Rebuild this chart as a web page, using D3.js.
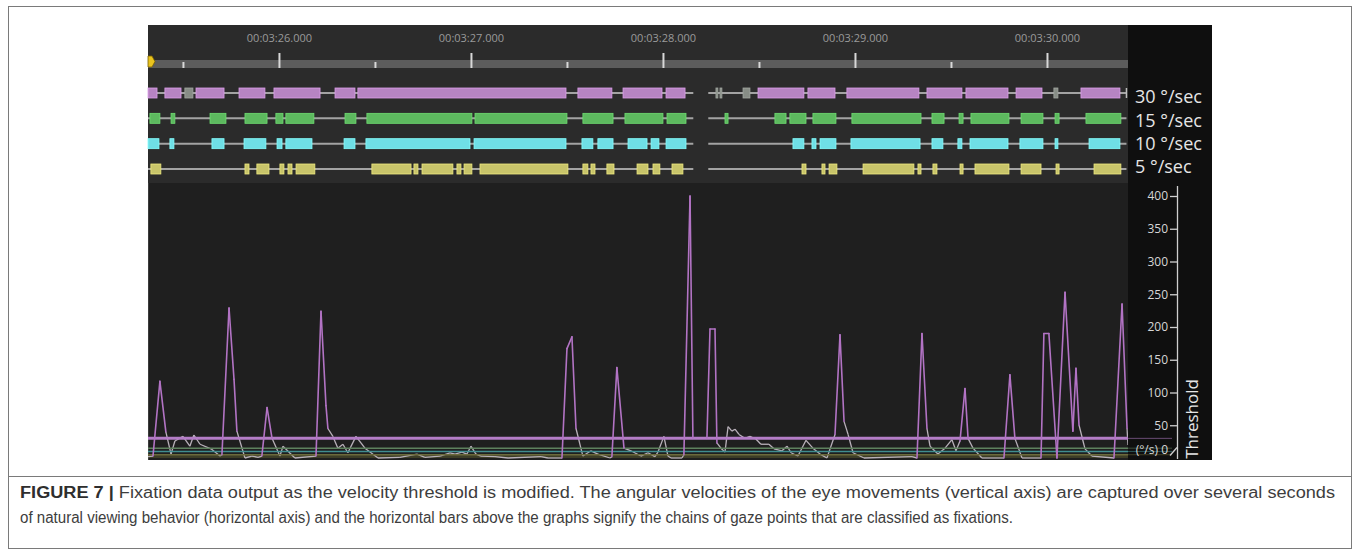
<!DOCTYPE html>
<html>
<head>
<meta charset="utf-8">
<script src="https://cdnjs.cloudflare.com/ajax/libs/d3/7.8.5/d3.min.js"></script>
<style>
    body { margin: 0; background: #fff; }
    svg { display: block; }
    .time-axis text { font-family: "Open Sans", sans-serif; font-size: 11px; fill: #9a9a9a; }
    .time-axis line { stroke: #d8d8d8; stroke-width: 2; }
    .y-axis text { font-family: "Open Sans", sans-serif; font-size: 12px; fill: #d6d6d6; }
    .y-axis line { stroke: #cfcfcf; stroke-width: 1.3; }
    .row-label { font-family: "Open Sans", sans-serif; font-size: 18px; fill: #e6e6e6; }
    .caption { font-family: "Liberation Sans", Arial, sans-serif; font-size: 16px; fill: #3d3d3d; }
</style>
</head>
<body>
<div class="chart"></div>
<script>

// time in ms after 00:03:25.000

var timeTicks = [1000, 2000, 3000, 4000, 5000];
var timeTickLabels = ["00:03:26.000", "00:03:27.000", "00:03:28.000", "00:03:29.000", "00:03:30.000"];
var halfTicks = [500, 1500, 2500, 3500, 4500];

var rowLabels = ["30 °/sec", "15 °/sec", "10 °/sec", "5 °/sec"];
var rowThresholds = [30, 15, 10, 5];
var rowColors = ["#b784c3", "#5db95f", "#6fdfe6", "#c8c46a"];

// gaze tracks have a gap between these spans
var trackSpans = [[318, 3158], [3236, 5414]];

// fixation chains [start, end] for every threshold
var fix30 = [[318, 365], [406, 490], [568, 714], [792, 927], [974, 1214], [1292, 1396], [1411, 2495],
    [2557, 2734], [2792, 2995], [3016, 3115], [3495, 3734], [3755, 3896], [3958, 4333], [4375, 4557],
    [4578, 4797], [4839, 4974], [5177, 5380]];
var unclassified30 = [[510, 552], [3276, 3286], [3297, 3307], [3417, 3453], [5036, 5057]];

var fix15 = [[328, 380], [438, 458], [641, 724], [823, 938], [984, 1021], [1036, 1182], [1344, 1401],
    [1458, 2005], [2021, 2500], [2583, 2740], [2802, 3000], [3021, 3120], [3323, 3339], [3583, 3641],
    [3661, 3745], [3781, 3901], [3984, 4344], [4401, 4464], [4542, 4563], [4604, 4802], [4865, 4979],
    [5042, 5063], [5203, 5385]];

var fix10 = [[318, 375], [432, 453], [651, 714], [818, 932], [990, 1016], [1036, 1172], [1339, 1396],
    [1453, 1995], [2016, 2495], [2578, 2635], [2661, 2740], [2818, 2917], [2938, 2979], [3016, 3120],
    [3677, 3734], [3776, 3797], [3818, 3901], [3979, 4339], [4401, 4458], [4536, 4557], [4599, 4797],
    [4859, 4979], [5042, 5057], [5219, 5380]];

var fix5 = [[333, 385], [823, 844], [885, 948], [1005, 1026], [1047, 1068], [1089, 1187], [1484, 1688],
    [1703, 1724], [1745, 1906], [1927, 1948], [1964, 2005], [2047, 2505], [2583, 2609], [2625, 2646],
    [2708, 2745], [2865, 2922], [2948, 2984], [3047, 3104], [3724, 3745], [3828, 3844], [3865, 3906],
    [4042, 4307], [4328, 4344], [4406, 4427], [4547, 4563], [4625, 4802], [4865, 4969], [5047, 5063],
    [5245, 5385]];

var yTicks = [0, 50, 100, 150, 200, 250, 300, 350, 400];

// angular velocity samples [time ms, deg/s]
var velocity = [
    [318, 2], [344, 3], [380, 117], [411, 40], [438, 6], [458, 26], [500, 33], [536, 18], [557, 35],
    [589, 21], [646, 14], [693, 3], [703, 5], [740, 229], [766, 120], [781, 41], [823, 0], [859, 3],
    [891, 1], [911, 3], [938, 77], [964, 30], [1005, 3], [1021, 18], [1083, 0], [1193, 3], [1219, 224],
    [1245, 80], [1255, 45], [1281, 33], [1307, 15], [1333, 21], [1359, 8], [1401, 33], [1448, 15],
    [1516, 0], [1630, 1], [1719, 6], [1760, 1], [1839, 3], [1891, 8], [1917, 6], [1953, 9], [1979, 6],
    [2000, 18], [2026, 6], [2052, 3], [2125, 2], [2193, 0], [2365, 2], [2401, 0], [2474, 0], [2500, 167],
    [2526, 185], [2547, 45], [2583, 3], [2625, 11], [2661, 6], [2724, 0], [2734, 2], [2760, 138],
    [2797, 15], [2833, 11], [2885, 3], [2922, 8], [2958, 2], [2974, 9], [3005, 33], [3026, 3], [3042, 0],
    [3099, 0], [3109, 5], [3141, 400], [3156, 30], [3193, 30], [3229, 30], [3245, 197], [3271, 197],
    [3281, 23], [3302, 15], [3323, 9], [3339, 48], [3359, 41], [3375, 44], [3396, 36], [3427, 30],
    [3453, 33], [3484, 29], [3510, 21], [3552, 21], [3578, 14], [3620, 11], [3646, 18], [3667, 8],
    [3703, 3], [3745, 27], [3781, 15], [3818, 6], [3854, 0], [3896, 36], [3922, 188], [3943, 56],
    [3964, 36], [3990, 8], [4047, 0], [4297, 2], [4323, 0], [4349, 190], [4375, 45], [4391, 18],
    [4432, 6], [4469, 15], [4505, 28], [4526, 11], [4547, 26], [4573, 106], [4589, 30], [4615, 15],
    [4661, 0], [4776, 0], [4807, 127], [4833, 30], [4870, 0], [4969, 0], [4984, 190], [5010, 190],
    [5052, 0], [5094, 253], [5135, 41], [5151, 137], [5167, 50], [5198, 14], [5234, 3], [5349, 0],
    [5391, 235], [5417, 45], [5422, 20]
];

var captionBold = "FIGURE 7 | ";
var captionLine1 = "Fixation data output as the velocity threshold is modified. The angular velocities of the eye movements (vertical axis) are captured over several seconds";
var captionLine2 = "of natural viewing behavior (horizontal axis) and the horizontal bars above the graphs signify the chains of gaze points that are classified as fixations.";

// Set-up the dimensions

var svgWidth = 1360;
var svgHeight = 554;

var panel = { left: 148, right: 1212, top: 25, bottom: 460 };
var plotRight = 1128;
var headerBottom = 183;

var svg = d3.select(".chart")
    .append("svg")
    .attr("width", svgWidth)
    .attr("height", svgHeight);

// scales

var xScale = d3.scaleLinear().domain([318, 5422]).range([panel.left, plotRight]);
var yScale = d3.scaleLinear().domain([0, 400]).range([458, 196]);
var rowScale = d3.scalePoint().domain(rowLabels).range([93, 169]);
var labelScale = d3.scalePoint().domain(rowLabels).range([97, 167]);

// figure frame

svg.append("rect")
    .attr("x", 8.5).attr("y", 6.5)
    .attr("width", 1343).attr("height", 542)
    .attr("fill", "none")
    .attr("stroke", "#7a7a7a");

svg.append("line")
    .attr("x1", 8).attr("x2", 1352)
    .attr("y1", 476.5).attr("y2", 476.5)
    .attr("stroke", "#7a7a7a");

// panel backgrounds

svg.append("rect")
    .attr("x", panel.left).attr("y", panel.top)
    .attr("width", plotRight - panel.left).attr("height", headerBottom - panel.top)
    .attr("fill", "#2b2b2b");

svg.append("rect")
    .attr("x", panel.left).attr("y", headerBottom)
    .attr("width", plotRight - panel.left).attr("height", panel.bottom - headerBottom)
    .attr("fill", "#1f1f1f");

svg.append("rect")
    .attr("x", plotRight).attr("y", panel.top)
    .attr("width", panel.right - plotRight).attr("height", panel.bottom - panel.top)
    .attr("fill", "#0f0f0f");

svg.append("line")
    .attr("x1", panel.left + 0.5).attr("x2", panel.left + 0.5)
    .attr("y1", headerBottom).attr("y2", panel.bottom)
    .attr("stroke", "#3c3c3c");

// timeline

svg.append("rect")
    .attr("x", panel.left).attr("y", 60)
    .attr("width", plotRight - panel.left).attr("height", 8)
    .attr("fill", "#5c5c5c");

var timeAxis = d3.axisTop(xScale)
    .tickValues(timeTicks)
    .tickSize(15)
    .tickPadding(11)
    .tickFormat(function(d, i) { return timeTickLabels[i]; });

svg.append("g")
    .attr("class", "time-axis")
    .attr("transform", "translate(0, 68)")
    .call(timeAxis)
    .call(function(g) { g.select(".domain").remove(); });

svg.append("g")
    .attr("class", "time-axis")
    .attr("transform", "translate(0, 68)")
    .call(d3.axisTop(xScale).tickValues(halfTicks).tickSize(6).tickFormat(""))
    .call(function(g) { g.select(".domain").remove(); });

// play head marker
svg.append("path")
    .attr("d", "M148,56 L152,56 L155,61.5 L152,67 L148,67 Z")
    .attr("fill", "#e9c31e")
    .attr("stroke", "#7a5f00")
    .attr("stroke-width", 0.8);

// fixation rows

var rows = [fix30, fix15, fix10, fix5];

rows.forEach(function(fixations, i) {

    var row = svg.append("g")
        .attr("transform", "translate(0," + rowScale(rowLabels[i]) + ")");

    row.selectAll(".track")
        .data(trackSpans)
        .enter()
        .append("line")
        .attr("x1", function(d) { return xScale(d[0]); })
        .attr("x2", function(d) { return xScale(d[1]); })
        .attr("y1", 0).attr("y2", 0)
        .attr("stroke", "#a3a3a3")
        .attr("stroke-width", 2);

    if (i === 0) {
        row.selectAll(".other")
            .data(unclassified30)
            .enter()
            .append("rect")
            .attr("x", function(d) { return xScale(d[0]); })
            .attr("width", function(d) { return xScale(d[1]) - xScale(d[0]); })
            .attr("y", -5).attr("height", 10)
            .attr("fill", "#878d86")
            .attr("stroke", "#a2a7a1")
            .attr("stroke-width", 0.8);

        row.append("line")
            .attr("x1", xScale(trackSpans[1][1])).attr("x2", xScale(trackSpans[1][1]))
            .attr("y1", -5).attr("y2", 5)
            .attr("stroke", "#bdbdbd")
            .attr("stroke-width", 1.5);
    }

    row.selectAll(".fix")
        .data(fixations)
        .enter()
        .append("rect")
        .attr("x", function(d) { return xScale(d[0]); })
        .attr("width", function(d) { return Math.max(2, xScale(d[1]) - xScale(d[0])); })
        .attr("y", -5).attr("height", 10)
        .attr("fill", rowColors[i])
        .attr("stroke", d3.color(rowColors[i]).brighter(0.5))
        .attr("stroke-width", 0.8);

    svg.append("text")
        .attr("class", "row-label")
        .attr("x", 1135)
        .attr("y", labelScale(rowLabels[i]))
        .attr("dy", "0.36em")
        .text(rowLabels[i]);
});

// velocity plot

svg.append("clipPath")
    .attr("id", "plot-clip")
    .append("rect")
    .attr("x", panel.left).attr("y", headerBottom)
    .attr("width", plotRight - panel.left).attr("height", panel.bottom - headerBottom);

var plot = svg.append("g").attr("clip-path", "url(#plot-clip)");

// band under the lowest threshold
plot.append("rect")
    .attr("x", panel.left)
    .attr("y", yScale(5))
    .attr("width", plotRight - panel.left)
    .attr("height", yScale(0) - yScale(5))
    .attr("fill", "#4a4a2a")
    .attr("opacity", 0.7);

var refColors = ["#b47dc7", "#5e815e", "#3f8d8f", "#6b6a3c"];
var refWidths = [3, 1.5, 1.5, 1.5];

rowThresholds.forEach(function(t, i) {
    svg.append("line")
        .attr("x1", plotRight).attr("x2", 1172)
        .attr("y1", yScale(t)).attr("y2", yScale(t))
        .attr("stroke", refColors[i])
        .attr("stroke-opacity", 0.55)
        .attr("stroke-width", 1);
});

var pairs = d3.pairs(velocity);

plot.selectAll(".vel")
    .data(pairs.filter(function(p) { return Math.max(p[0][1], p[1][1]) < 60; }))
    .enter()
    .append("line")
    .attr("x1", function(p) { return xScale(p[0][0]); })
    .attr("y1", function(p) { return yScale(p[0][1]); })
    .attr("x2", function(p) { return xScale(p[1][0]); })
    .attr("y2", function(p) { return yScale(p[1][1]); })
    .attr("stroke", "#b9b1ba")
    .attr("stroke-width", 1.3);

rowThresholds.slice().reverse().forEach(function(t, j) {
    var i = rowThresholds.length - 1 - j;
    plot.append("line")
        .attr("x1", panel.left).attr("x2", plotRight)
        .attr("y1", yScale(t)).attr("y2", yScale(t))
        .attr("stroke", refColors[i])
        .attr("stroke-width", refWidths[i]);
});

plot.selectAll(".sac")
    .data(pairs.filter(function(p) { return Math.max(p[0][1], p[1][1]) >= 60; }))
    .enter()
    .append("line")
    .attr("x1", function(p) { return xScale(p[0][0]); })
    .attr("y1", function(p) { return yScale(p[0][1]); })
    .attr("x2", function(p) { return xScale(p[1][0]); })
    .attr("y2", function(p) { return yScale(p[1][1]); })
    .attr("stroke", "#b273c4")
    .attr("stroke-width", 1.6)
    .attr("stroke-linecap", "round");

// threshold axis

var yAxis = d3.axisLeft(yScale)
    .tickValues(yTicks)
    .tickSize(7)
    .tickPadding(2)
    .tickFormat(function(d) { return d === 0 ? "(°/s) 0" : d; });

var yAxisG = svg.append("g")
    .attr("class", "y-axis")
    .attr("transform", "translate(1177,0)")
    .call(yAxis)
    .call(function(g) { g.select(".domain").remove(); });

yAxisG.selectAll(".tick")
    .filter(function(d) { return d === 0; })
    .call(function(t) {
        t.select("text").attr("y", -8);
        t.select("line").attr("x1", -7).attr("y1", -3).attr("x2", 0).attr("y2", -11);
    });

yAxisG.append("line")
    .attr("x1", 0.5).attr("x2", 0.5)
    .attr("y1", 186).attr("y2", 459)
    .attr("stroke", "#cfcfcf")
    .attr("stroke-width", 1.3);

svg.append("text")
    .attr("transform", "translate(1198, 419) rotate(-90)")
    .attr("text-anchor", "middle")
    .attr("font-family", "Open Sans, sans-serif")
    .attr("font-size", "17px")
    .attr("fill", "#e6e6e6")
    .text("Threshold");

// caption

var cap1 = svg.append("text")
    .attr("class", "caption")
    .attr("x", 20)
    .attr("y", 498)
    .attr("textLength", 1315)
    .attr("lengthAdjust", "spacingAndGlyphs");

cap1.append("tspan")
    .attr("font-weight", "bold")
    .attr("fill", "#2e2e2e")
    .text(captionBold);

cap1.append("tspan").text(captionLine1);

svg.append("text")
    .attr("class", "caption")
    .attr("x", 20)
    .attr("y", 523)
    .attr("textLength", 993)
    .attr("lengthAdjust", "spacingAndGlyphs")
    .text(captionLine2);

</script>
</body>
</html>
